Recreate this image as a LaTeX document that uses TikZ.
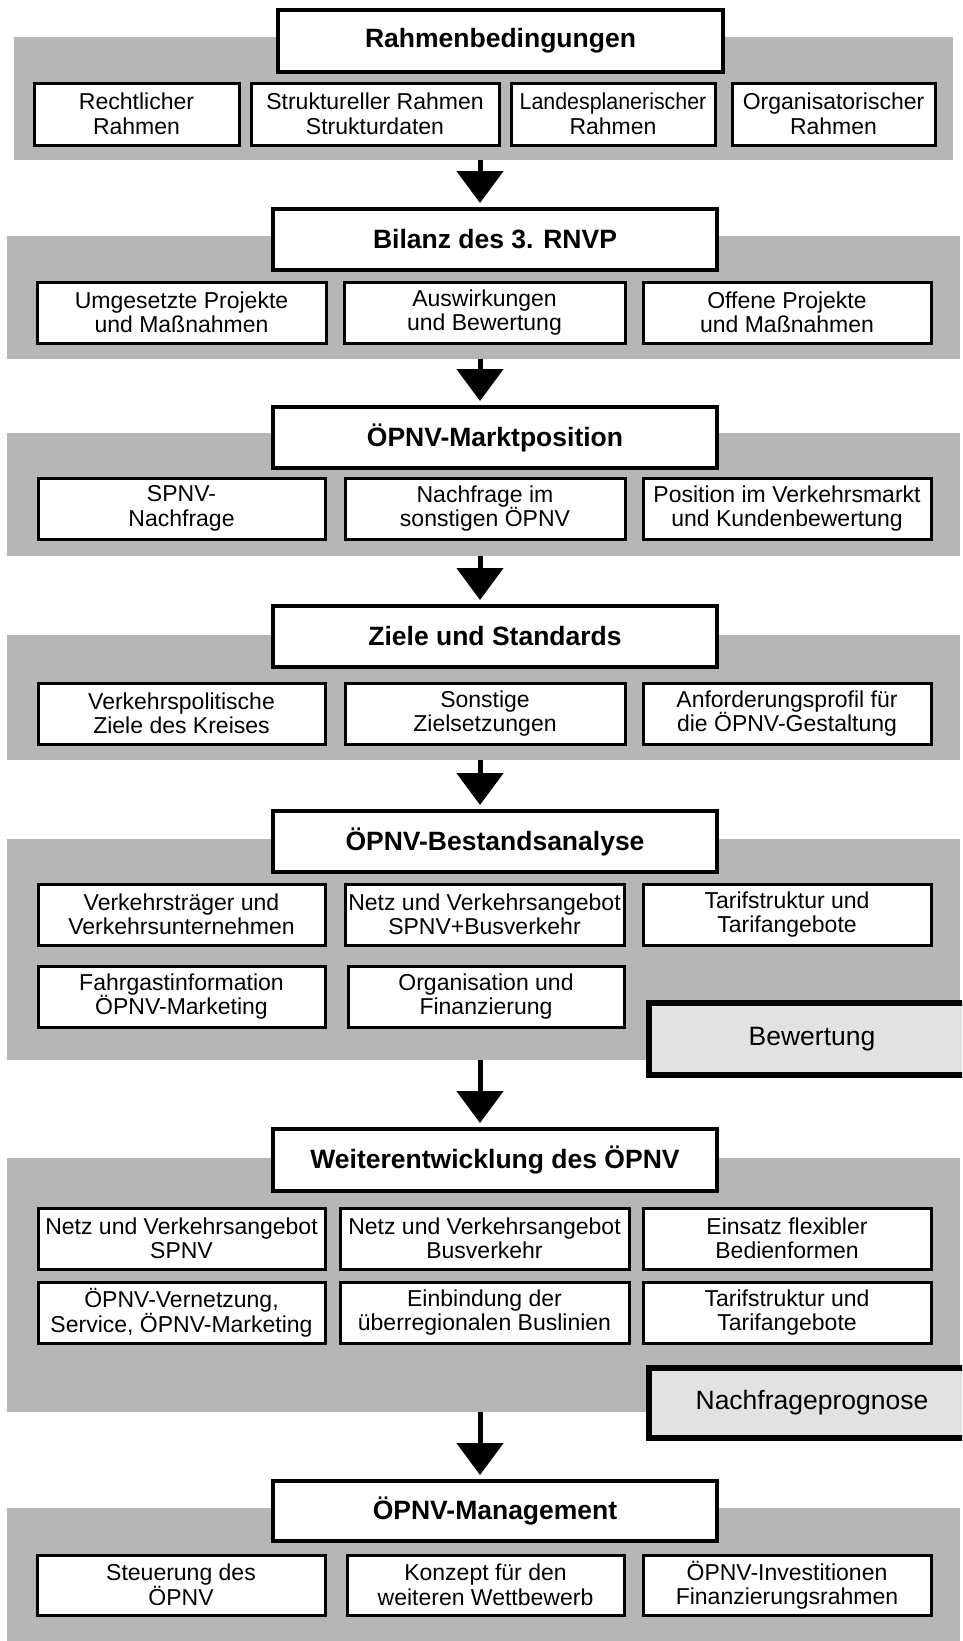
\documentclass[tikz,border=0pt]{standalone}
\usepackage{fontspec}
\setmainfont{Liberation Sans}
\usetikzlibrary{arrows.meta}
\definecolor{bandgray}{RGB}{182,182,182}
\definecolor{notegray}{RGB}{226,226,226}
\newcommand\fsub{\fontsize{23}{24.5}\selectfont}
\newcommand\ftitle{\fontsize{26.5}{28}\selectfont\bfseries}
\newcommand\fnote{\fontsize{26.5}{28}\selectfont}
\newcommand\B[7]{%
  \pgfmathsetmacro\bxcx{(#3+#5)/2}%
  \pgfmathsetmacro\bxcy{(#4+#6)/2}%
  \pgfmathsetmacro\bxw{#5-#3}%
  \pgfmathsetmacro\bxh{#6-#4}%
  \node[#1, minimum width=\bxw pt, minimum height=\bxh pt] (#2) at (\bxcx,\bxcy) {#7};}
\begin{document}
\begin{tikzpicture}[x=1pt,y=-1pt,
  band/.style={fill=bandgray, draw=none, inner sep=0pt, outer sep=0pt},
  sub/.style={draw, line width=3pt, fill=white, align=center, font=\fsub, inner sep=0pt},
  ttl/.style={draw, line width=4pt, fill=white, align=center, font=\ftitle, inner sep=0pt},
  note/.style={draw, line width=6pt, fill=notegray, font=\fnote, inner sep=0pt},
  arr/.style={line width=5pt, -{Triangle[width=46pt,length=32pt]}, shorten >=4pt}]
\useasboundingbox (0,0) rectangle (962,1641);
\clip (0,0) rectangle (962,1641);
\coordinate (ax) at (480,0);
% Section 1
\B{band}{band1}{14}{37}{953}{160}{}
\B{ttl}{t1}{278}{10}{723}{72}{Rahmenbedingungen}
\B{sub}{s11}{34}{83}{239}{145}{Rechtlicher\\Rahmen}
\B{sub}{s12}{251}{83}{499}{145}{Struktureller Rahmen\\Strukturdaten}
\B{sub}{s13}{511}{83}{715}{145}{\scalebox{0.93}[1]{Landesplanerischer}\\Rahmen}
\B{sub}{s14}{732}{83}{935}{145}{Organisatorischer\\Rahmen}
% Section 2
\B{band}{band2}{7}{236}{960}{359}{}
\B{ttl}{t2}{273}{209}{717}{270}{Bilanz des 3. RNVP}
\B{sub}{s21}{37}{282}{326}{343}{Umgesetzte Projekte\\und Maßnahmen}
\B{sub}{s22}{344}{282}{625}{343}{Auswirkungen\\und Bewertung}
\B{sub}{s23}{643}{282}{931}{343}{Offene Projekte\\und Maßnahmen}
% Section 3
\B{band}{band3}{7}{433}{960}{556}{}
\B{ttl}{t3}{273}{407}{717}{468}{ÖPNV-Marktposition}
\B{sub}{s31}{38}{478}{325}{539}{SPNV-\\Nachfrage}
\B{sub}{s32}{345}{478}{625}{539}{Nachfrage im\\sonstigen ÖPNV}
\B{sub}{s33}{643}{478}{931}{539}{Position im Verkehrsmarkt\\und Kundenbewertung}
% Section 4
\B{band}{band4}{7}{635}{960}{760}{}
\B{ttl}{t4}{273}{606}{717}{667}{Ziele und Standards}
\B{sub}{s41}{38}{683}{325}{744}{Verkehrspolitische\\Ziele des Kreises}
\B{sub}{s42}{345}{683}{625}{744}{Sonstige\\Zielsetzungen}
\B{sub}{s43}{643}{683}{931}{744}{Anforderungsprofil für\\die ÖPNV-Gestaltung}
% Section 5
\B{band}{band5}{7}{839}{960}{1060}{}
\B{ttl}{t5}{273}{811}{717}{872}{ÖPNV-Bestandsanalyse}
\B{sub}{s51}{38}{884}{325}{945}{Verkehrsträger und\\Verkehrsunternehmen}
\B{sub}{s52}{345}{884}{624}{945}{Netz und Verkehrsangebot\\SPNV+Busverkehr}
\B{sub}{s53}{643}{884}{931}{945}{Tarifstruktur und\\Tarifangebote}
\B{sub}{s54}{38}{966}{325}{1027}{Fahrgastinformation\\ÖPNV-Marketing}
\B{sub}{s55}{348}{966}{624}{1027}{Organisation und\\Finanzierung}
\B{note}{n5}{649}{1003}{975}{1075}{Bewertung}
% Section 6
\B{band}{band6}{7}{1158}{960}{1412}{}
\B{ttl}{t6}{273}{1129}{717}{1191}{Weiterentwicklung des ÖPNV}
\B{sub}{s61}{38}{1208}{325}{1269}{Netz und Verkehrsangebot\\SPNV}
\B{sub}{s62}{340}{1208}{629}{1269}{Netz und Verkehrsangebot\\Busverkehr}
\B{sub}{s63}{643}{1208}{931}{1269}{Einsatz flexibler\\Bedienformen}
\B{sub}{s64}{38}{1282}{325}{1343}{ÖPNV-Vernetzung,\\Service, ÖPNV-Marketing}
\B{sub}{s65}{340}{1282}{629}{1343}{Einbindung der\\überregionalen Buslinien}
\B{sub}{s66}{643}{1282}{931}{1343}{Tarifstruktur und\\Tarifangebote}
\B{note}{n6}{649}{1368}{975}{1438}{Nachfrageprognose}
% Section 7
\B{band}{band7}{7}{1508}{960}{1660}{}
\B{ttl}{t7}{273}{1481}{717}{1541}{ÖPNV-Management}
\B{sub}{s71}{37}{1555}{325}{1615}{Steuerung des\\ÖPNV}
\B{sub}{s72}{347}{1555}{624}{1615}{Konzept für den\\weiteren Wettbewerb}
\B{sub}{s73}{643}{1555}{931}{1615}{ÖPNV-Investitionen\\Finanzierungsrahmen}
% Arrows
\draw[arr] (band1.south -| ax) -- (t2.north -| ax);
\draw[arr] (band2.south -| ax) -- (t3.north -| ax);
\draw[arr] (band3.south -| ax) -- (t4.north -| ax);
\draw[arr] (band4.south -| ax) -- (t5.north -| ax);
\draw[arr] (band5.south -| ax) -- (t6.north -| ax);
\draw[arr] (band6.south -| ax) -- (t7.north -| ax);
\end{tikzpicture}
\end{document}
